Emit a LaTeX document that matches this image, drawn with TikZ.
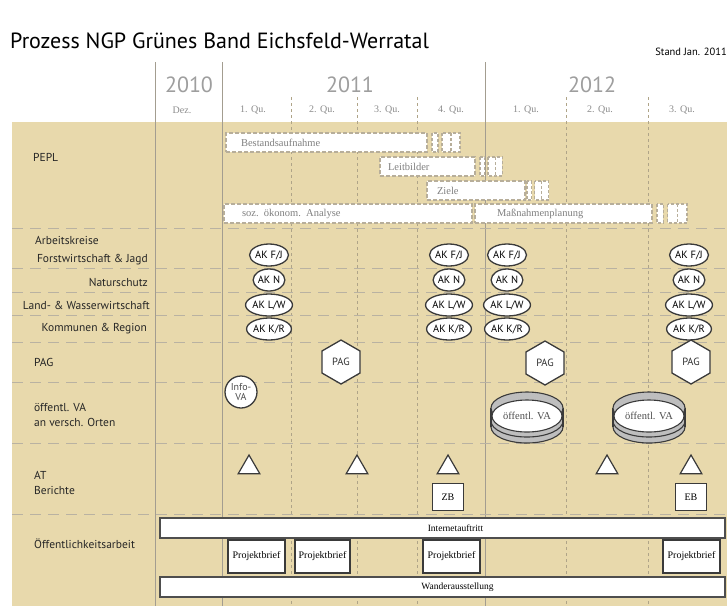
\documentclass[tikz,border=0pt]{standalone}
\usepackage{fontspec}
\setmainfont{Liberation Serif}
\newfontfamily\labfont{PT Sans}
\usetikzlibrary{shapes.geometric}
\definecolor{beige}{HTML}{E8D9AC}
\definecolor{dk}{HTML}{3A3A3A}
\definecolor{sepc}{HTML}{B9B2A2}
\definecolor{vlc}{HTML}{A39D90}
\definecolor{dashc}{HTML}{AFA488}
\definecolor{pbord}{HTML}{B7AE9A}
\definecolor{cylg}{HTML}{BEBEBE}
\tikzset{
 rowlab/.style={font=\labfont\fontsize{11.5}{15}\selectfont, text=black!85, inner sep=0},
 rowlabr/.style={rowlab, anchor=east},
 rowlabl/.style={rowlab, anchor=west, align=left},
 yearlab/.style={font=\labfont\fontsize{22}{24}\selectfont, text=black!38, inner sep=0},
 qlab/.style={font=\fontsize{10}{11}\selectfont, text=black!45, inner sep=0},
 hsep/.style={draw=sepc, line width=1pt, dash pattern=on 11pt off 7pt},
 vsolid/.style={draw=vlc, line width=1pt},
 vdash/.style={draw=dashc, line width=0.9pt, dash pattern=on 3pt off 3pt},
 peplbox/.style={rectangle, draw=pbord, fill=white, line width=1.2pt, dash pattern=on 4pt off 2pt, minimum height=19pt, inner ysep=0, align=left, font=\fontsize{10.5}{13}\selectfont, text=black!50},
 squigst/.style={draw=pbord, fill=white, line width=1.1pt, dash pattern=on 3pt off 2pt},
 akell/.style={ellipse, draw=dk, fill=white, line width=1.3pt, inner sep=0pt, minimum height=22pt, font=\labfont\fontsize{10.5}{12}\selectfont},
 hexa/.style={regular polygon, regular polygon sides=6, shape border rotate=30, draw=dk, fill=white, line width=1.3pt, minimum size=44pt, inner sep=0, font=\labfont\fontsize{10.5}{12}\selectfont, text=black!80},
 infoc/.style={circle, draw=dk, fill=white, line width=1.3pt, minimum size=32pt, inner sep=0, align=center, font=\labfont\fontsize{10}{10}\selectfont, text=black!70},
 vatext/.style={inner sep=0, font=\fontsize{10.5}{12}\selectfont, text=black!70},
 trian/.style={regular polygon, regular polygon sides=3, draw=dk, fill=white, line width=1.2pt, minimum size=25pt, inner sep=0},
 rbox/.style={rectangle, draw=dk, fill=white, line width=1.6pt, inner sep=0, font=\fontsize{10}{12}\selectfont},
 barbox/.style={rectangle, draw=dk!90, fill=white, line width=1.6pt, minimum width=565pt, minimum height=20pt, inner sep=0, font=\fontsize{9.5}{11}\selectfont},
}
\newcommand\squig[3]{%
 \begin{scope}[shift={(#1,#2)},xscale=#3]
  \filldraw[squigst] (0,0) rectangle (6,19);
  \filldraw[squigst] (10,0) rectangle (28,19);
  \draw[squigst] (19,0) -- (19,19);
 \end{scope}}
\newcommand\vacyl[3]{%
 \begin{scope}[shift={(#2,#3)}]
  \filldraw[fill=cylg, draw=dk, line width=1.1pt] (0,11) ellipse [x radius=36, y radius=16];
  \filldraw[fill=cylg, draw=dk, line width=1.1pt] (0,5) ellipse [x radius=36, y radius=16];
  \fill[cylg] (-36,-8) rectangle (36,5);
  \draw[dk, line width=1.1pt] (-36,-8) -- (-36,11) (36,-8) -- (36,11);
  \filldraw[fill=cylg, draw=dk, line width=1.1pt] (0,-8) ellipse [x radius=36, y radius=16];
  \filldraw[fill=white, draw=dk, line width=1.1pt] (0,0) ellipse [x radius=35, y radius=16];
  \node[vatext] (#1) at (0,0) {öffentl. VA};
 \end{scope}}
\begin{document}
\begin{tikzpicture}[x=1pt,y=-1pt]
\useasboundingbox (0,0) rectangle (727,606);
\fill[white] (0,0) rectangle (727,606);
\fill[beige] (12,122) rectangle (727,606);
% title
\node[anchor=west, font=\labfont\fontsize{22}{24}\selectfont, inner sep=0] (title) at (10,41) {Prozess NGP Grünes Band Eichsfeld-Werratal};
\node[anchor=east, font=\labfont\fontsize{10.5}{12}\selectfont, inner sep=0] (stand) at (727,52) {Stand Jan. 2011};
% vertical lines
\foreach \x in {155,222,485} \draw[vsolid] (\x,62) -- (\x,606);
\foreach \x in {291,357,417,566,648} \draw[vdash] (\x,97) -- (\x,606);
% horizontal separators
\foreach \y in {228,268,292,315,342,382,443,514} \draw[hsep] (12,\y) -- (727,\y);
% header
\node[yearlab] (y10) at (189,85) {2010};
\node[yearlab] (y11) at (350,85) {2011};
\node[yearlab] (y12) at (592,85) {2012};
\node[qlab] (qd) at (182,110) {Dez.};
\node[qlab] (q1a) at (253,110) {1. Qu.};
\node[qlab] (q2a) at (322,110) {2. Qu.};
\node[qlab] (q3a) at (387,110) {3. Qu.};
\node[qlab] (q4a) at (451,110) {4. Qu.};
\node[qlab] (q1b) at (526,110) {1. Qu.};
\node[qlab] (q2b) at (600,110) {2. Qu.};
\node[qlab] (q3b) at (682,110) {3. Qu.};
% row labels
\node[rowlabl] (lpepl) at (33,157) {PEPL};
\node[rowlabl] (lak) at (35,240) {Arbeitskreise};
\node[rowlabr] (lfj) at (148,260) {Forstwirtschaft \& Jagd};
\node[rowlabr] (lnat) at (148,282) {Naturschutz};
\node[rowlabr] (llw) at (150,305) {Land- \& Wasserwirtschaft};
\node[rowlabr] (lkr) at (147,329) {Kommunen \& Region};
\node[rowlabl] (lpag) at (34,362) {PAG};
\node[rowlabl] (lva) at (34,415) {öffentl. VA\\an versch. Orten};
\node[rowlabl] (lat) at (34,483) {AT\\Berichte};
\node[rowlabl] (loe) at (34,544) {Öffentlichkeitsarbeit};
% PEPL boxes
\node[peplbox, inner xsep=15pt, text width=171pt] (bestand) at (326.5,142.5) {Bestandsaufnahme};
\squig{432}{133}{1}
\node[peplbox, inner xsep=8pt, text width=79pt] (leit) at (427.5,166.5) {Leitbilder};
\squig{480}{157}{0.8}
\node[peplbox, inner xsep=10pt, text width=78pt] (ziele) at (476,190.5) {Ziele};
\squig{527}{181}{0.78}
\node[peplbox, inner xsep=18pt, text width=212pt] (soz) at (348,213.5) {soz. ökonom. Analyse};
\node[peplbox, inner xsep=22pt, text width=133pt] (mass) at (563.5,213.5) {Maßnahmenplanung};
\squig{657}{204}{1.07}
% Arbeitskreise
\foreach \c/\x in {a/269,b/449,c/507,d/689}{
 \node[akell] (fj\c) at (\x,255) {AK F/J};
 \node[akell] (n\c) at (\x,280) {AK N};
 \node[akell] (lw\c) at (\x,305) {AK L/W};
 \node[akell] (kr\c) at (\x,329) {AK K/R};
}
% PAG
\node[hexa] (pag1) at (341,362) {PAG};
\node[hexa] (pag2) at (545,363) {PAG};
\node[hexa] (pag3) at (691,362) {PAG};
% VA
\node[infoc] (info) at (241,392) {Info-\\VA};
\vacyl{va1}{527}{416}
\vacyl{va2}{649}{416}
% AT
\foreach \n/\x in {1/249,2/357,3/448,4/607,5/691}
 \node[trian] (at\n) at (\x,467.5) {};
\node[rbox, minimum width=31pt, minimum height=27pt] (zb) at (448,497) {ZB};
\node[rbox, minimum width=31pt, minimum height=27pt] (eb) at (691,497) {EB};
% Oeffentlichkeitsarbeit
\node[barbox] (inet) at (442.5,528) {\hspace*{26pt}Internetauftritt};
\node[rbox, minimum width=57pt, minimum height=33pt] (pb1) at (256.5,556.5) {Projektbrief};
\node[rbox, minimum width=55pt, minimum height=33pt] (pb2) at (322.5,556.5) {Projektbrief};
\node[rbox, minimum width=57pt, minimum height=33pt] (pb3) at (451.5,556.5) {Projektbrief};
\node[rbox, minimum width=57pt, minimum height=33pt] (pb4) at (691.5,556.5) {Projektbrief};
\node[barbox] (wander) at (442.5,587) {\hspace*{30pt}Wanderausstellung};
\end{tikzpicture}
\end{document}
